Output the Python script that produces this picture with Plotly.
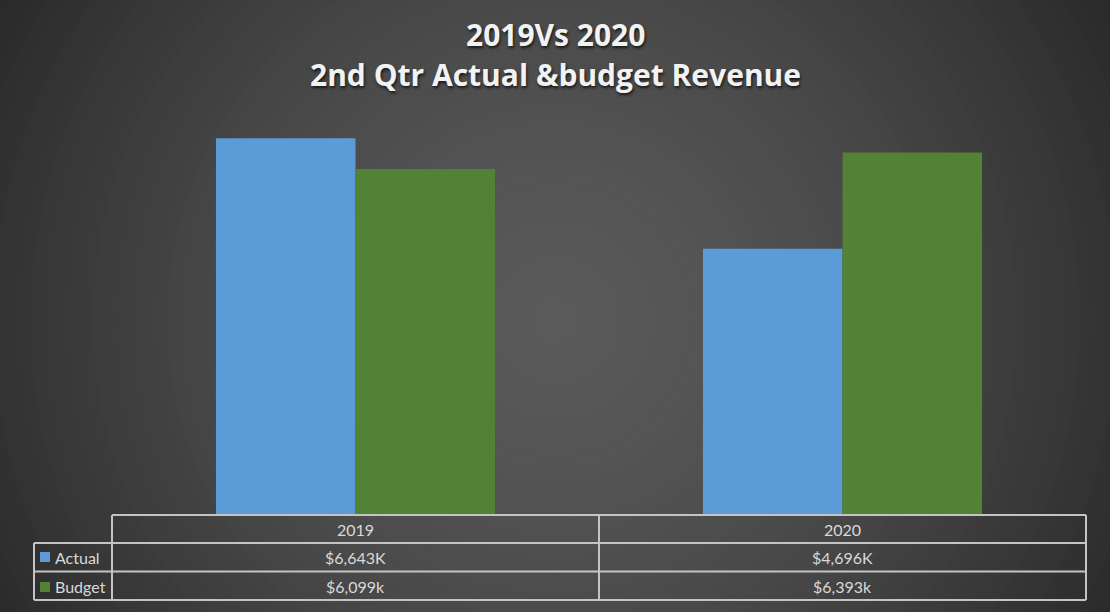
"""
2019 vs 2020 第2四半期 実績/予算 売上の棒グラフ（データテーブル付き）
"""

import plotly.graph_objects as go

CATEGORIES = ["2019", "2020"]
ACTUAL = [6643, 4696]
BUDGET = [6099, 6393]
ACTUAL_LABELS = ["$6,643K", "$4,696K"]
BUDGET_LABELS = ["$6,099k", "$6,393k"]
SERIES_NAMES = ["Actual", "Budget"]

BLUE = "#5b9bd7"
GREEN = "#538135"
LINE = "#c4c4c4"
TXT = "#d9d9d9"
FONT = "Lato"

W, H = 1110, 612
ML, MR, MT, MB = 112, 24, 118, 97
PW, PH = W - ML - MR, H - MT - MB


def px_xp(px):
    """図の x ピクセル → paper 座標"""
    return (px - ML) / PW


def px_y(py):
    """図の y ピクセル → paper 座標"""
    return (H - MB - py) / PH


fig = go.Figure()
fig.add_trace(go.Bar(x=CATEGORIES, y=ACTUAL, name=SERIES_NAMES[0],
                     marker=dict(color=BLUE, line=dict(width=0))))
fig.add_trace(go.Bar(x=CATEGORIES, y=BUDGET, name=SERIES_NAMES[1],
                     marker=dict(color=GREEN, line=dict(width=0))))

shapes = []

# 背景の放射グラデーション（同心円で近似）
cx, cy = px_xp(555), px_y(320)
n = 56
rmax = 700
for i in range(n):
    r = rmax * (1 - i / n)
    t = min(r / 660, 1)
    v = int(round(0x5a - (0x5a - 0x28) * t ** 1.5))
    col = f"rgb({v},{v},{v})"
    shapes.append(dict(type="circle", xref="paper", yref="paper",
                       xsizemode="pixel", ysizemode="pixel",
                       xanchor=cx, yanchor=cy,
                       x0=-r, x1=r, y0=-r, y1=r,
                       fillcolor=col, line=dict(width=0), layer="below"))

# データテーブルの罫線（paper 座標）
y_top, y_r1, y_r2, y_bot = px_y(515), px_y(543), px_y(571.5), px_y(600)
x_lab = px_xp(34)
col_edges = [i / len(CATEGORIES) for i in range(len(CATEGORIES) + 1)]
lw = dict(color=LINE, width=2)
shapes.append(dict(type="line", xref="paper", yref="paper", x0=0, x1=1, y0=y_top, y1=y_top, line=lw))
for yy in (y_r1, y_r2, y_bot):
    shapes.append(dict(type="line", xref="paper", yref="paper", x0=x_lab, x1=1, y0=yy, y1=yy, line=lw))
for xx in col_edges:
    shapes.append(dict(type="line", xref="paper", yref="paper", x0=xx, x1=xx, y0=y_top, y1=y_bot, line=lw))
shapes.append(dict(type="line", xref="paper", yref="paper", x0=x_lab, x1=x_lab, y0=y_r1, y1=y_bot, line=lw))

# 凡例キー
for col, (ya, yb) in zip([BLUE, GREEN], [(552, 562), (582, 592)]):
    shapes.append(dict(type="rect", xref="paper", yref="paper",
                       x0=px_xp(40), x1=px_xp(50), y0=px_y(ya), y1=px_y(yb),
                       fillcolor=col, line=dict(width=0)))

annotations = []
tf = dict(family=FONT, size=16, color=TXT)
row_y = [px_y(529), px_y(557), px_y(586)]
for i, cat in enumerate(CATEGORIES):
    xc = (col_edges[i] + col_edges[i + 1]) / 2
    for txt, yy in [(cat, row_y[0]), (ACTUAL_LABELS[i], row_y[1]), (BUDGET_LABELS[i], row_y[2])]:
        annotations.append(dict(x=xc, y=yy, xref="paper", yref="paper", text=txt,
                                showarrow=False, font=tf, xanchor="center", yanchor="middle"))
for name, yy in zip(SERIES_NAMES, row_y[1:]):
    annotations.append(dict(x=px_xp(53), y=yy, xref="paper", yref="paper", text=name,
                            xanchor="left", yanchor="middle", showarrow=False, font=tf))

# タイトル（2行）
title_font = dict(family="Open Sans", size=30, color="#f2f2f2", weight="bold",
                  shadow="1px 2px 3px rgba(0,0,0,0.7)")
for txt, py in [("2019Vs 2020", 35), ("2nd Qtr Actual &budget Revenue", 75)]:
    annotations.append(dict(x=px_xp(555), y=px_y(py), xref="paper", yref="paper",
                            text=txt, showarrow=False, font=title_font,
                            xanchor="center", yanchor="middle"))

fig.update_layout(
    width=W, height=H,
    margin=dict(l=ML, r=MR, t=MT, b=MB),
    paper_bgcolor="#282828",
    plot_bgcolor="rgba(0,0,0,0)",
    barmode="group",
    bargap=0.427,
    bargroupgap=0,
    showlegend=False,
    xaxis=dict(type="category", range=[-0.5, 1.5], showticklabels=False, showgrid=False,
               zeroline=False, showline=False),
    yaxis=dict(range=[0, 7000], visible=False),
    shapes=shapes,
    annotations=annotations,
)

fig.write_html("out.html", config={"displayModeBar": False},
               post_script="document.body.style.margin='0';")
